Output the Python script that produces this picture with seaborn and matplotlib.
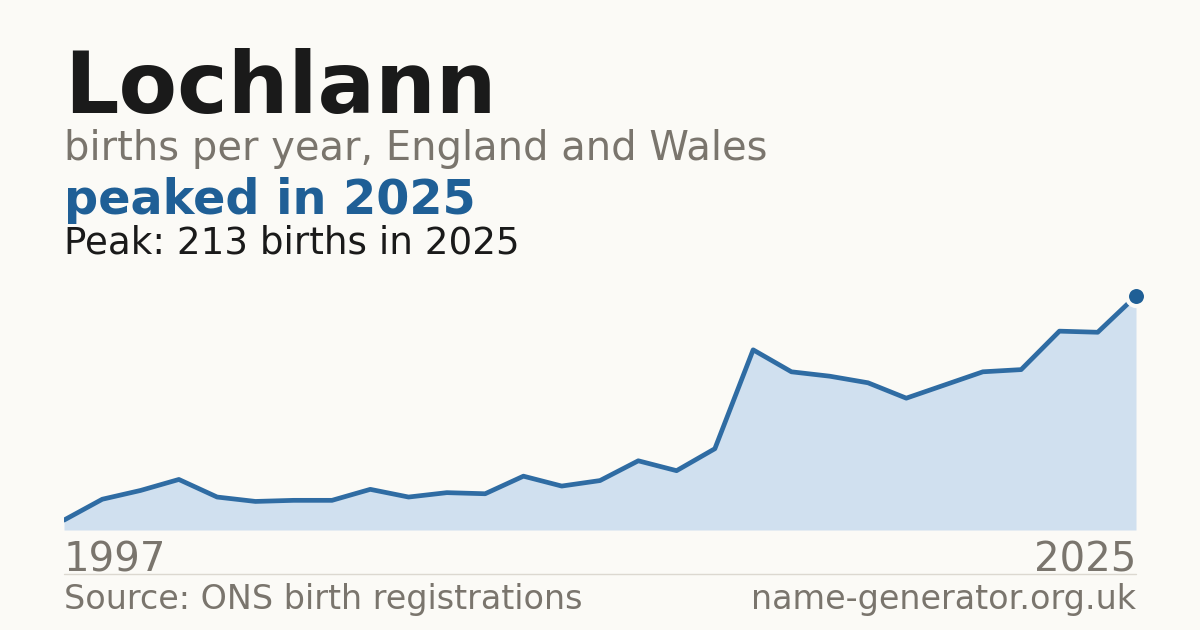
import matplotlib
matplotlib.use("Agg")
import matplotlib.pyplot as plt
import seaborn as sns
import pandas as pd

years = list(range(1997, 2026))
births = [9, 28, 36, 46, 30, 26, 27, 27, 37, 30, 34, 33, 49, 40, 45, 63, 54, 74,
          164, 144, 140, 134, 120, 132, 144, 146, 181, 180, 213]
name = "Lochlann"
subtitle = "births per year, England and Wales"
headline = "peaked in 2025"
peak_text = "Peak: 213 births in 2025"
source_text = "Source: ONS birth registrations"
site_text = "name-generator.org.uk"

BG = "#fbfaf6"
BLUE = "#1f5f96"
LINE = "#2f6ca3"
FILL = "#d0e0ef"
GREY = "#7a756d"
DARK = "#1a1a1a"

sns.set_theme(style="white")
plt.rcParams["font.family"] = ["DejaVu Sans"]

W, H = 1200, 630
fig = plt.figure(figsize=(12, 6.3), dpi=100, facecolor=BG)

def fy(px):
    return 1 - px / H

ax = fig.add_axes([64 / W, (H - 530) / H, (1136 - 64) / W, (530 - 296) / H])
ax.set_facecolor(BG)
ax.patch.set_alpha(0)
df = pd.DataFrame({"year": years, "births": births})
ax.fill_between(df["year"], 0, df["births"], color=FILL, lw=0, zorder=1)
sns.lineplot(data=df, x="year", y="births", ax=ax, color=LINE, lw=3.4, zorder=2)
ax.plot([years[-1]], [births[-1]], marker="o", ms=13.8, mew=3, mfc=BLUE, mec=BG,
        clip_on=False, zorder=3)
ax.set_xlim(years[0], years[-1])
ax.set_ylim(0, max(births))
ax.axis("off")

fig.text(64 / W, fy(113), name, fontsize=61.5, fontweight="bold", color=DARK, va="baseline")
fig.text(64 / W, fy(160), subtitle, fontsize=28.8, color=GREY, va="baseline")
fig.text(64 / W, fy(214), headline, fontsize=34.4, fontweight="bold", color=BLUE, va="baseline")
fig.text(64 / W, fy(253), peak_text, fontsize=26.8, color=DARK, va="baseline")
fig.text(64 / W, fy(571), str(years[0]), fontsize=29, color=GREY, va="baseline", ha="left")
fig.text(1136 / W, fy(571), str(years[-1]), fontsize=29, color=GREY, va="baseline", ha="right")
fig.add_artist(plt.Line2D([64 / W, 1136 / W], [fy(574), fy(574)], color="#dcd8d0", lw=1))
fig.text(64 / W, fy(609), source_text, fontsize=24, color=GREY, va="baseline", ha="left")
fig.text(1136 / W, fy(609), site_text, fontsize=24, color=GREY, va="baseline", ha="right")

fig.savefig("out.png", dpi=100, facecolor=BG)
